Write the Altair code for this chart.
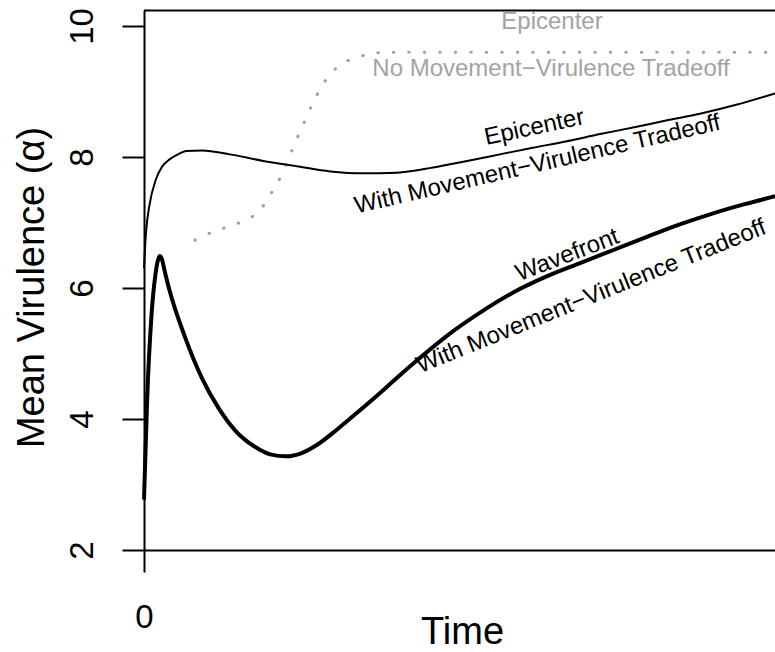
import altair as alt
import pandas as pd

# ---- data (Time in arbitrary units 0..100, mean virulence alpha) ----
wave_time = [0, 0.5, 1.2, 1.8, 2.2, 2.5, 2.8, 3.3, 4.0, 6.5, 9.2, 11.8, 14.5, 17.5,
             20.0, 22.5, 25.0, 27.5, 30.6, 33.7, 37.9, 40.1, 43.7, 48.0, 53.2, 58.5,
             63.9, 69.1, 74.4, 79.7, 84.9, 90.2, 95.2, 100]
wave_alpha = [2.77, 4.3, 5.6, 6.2, 6.42, 6.49, 6.45, 6.25, 5.98, 5.25, 4.62, 4.17, 3.82, 3.58,
              3.46, 3.43, 3.48, 3.61, 3.84, 4.09, 4.44, 4.63, 4.93, 5.27, 5.62, 5.93,
              6.18, 6.38, 6.58, 6.78, 6.97, 7.14, 7.28, 7.40]

epi_time = [0, 0.32, 0.84, 1.9, 2.85, 4.0, 5.4, 6.66, 9.2, 13.6, 18.9, 24.2, 29.5, 34.7,
            40.1, 45.8, 51.2, 56.4, 61.6, 67.0, 72.3, 77.5, 82.9, 88.1, 94.0, 100]
epi_alpha = [6.3, 6.85, 7.25, 7.66, 7.85, 7.96, 8.04, 8.09, 8.10, 8.04, 7.94, 7.86, 7.78, 7.75,
             7.76, 7.84, 7.94, 8.04, 8.14, 8.24, 8.35, 8.45, 8.56, 8.66, 8.80, 8.97]

nomove_time = [8.08, 10.46, 12.84, 15.21, 17.43, 19.18, 20.44, 21.71, 22.71, 23.77, 24.72,
               25.78, 26.83, 28.0, 29.48, 31.33, 33.71, 36.18, 38.67, 43.74, 56.4, 72.3, 88.1, 100]
nomove_alpha = [6.73, 6.84, 6.92, 7.0, 7.11, 7.29, 7.49, 7.71, 7.94, 8.17, 8.39,
                8.61, 8.84, 9.05, 9.26, 9.42, 9.52, 9.58, 9.60, 9.60, 9.60, 9.60, 9.60, 9.60]

y_ticks = [2, 4, 6, 8, 10]
x_ticks = [0]

# label anchors (data units)
lab_text = ["Epicenter", "No Movement\u2212Virulence Tradeoff", "Epicenter",
            "With Movement\u2212Virulence Tradeoff", "Wavefront",
            "With Movement\u2212Virulence Tradeoff"]
lab_time = [64.66, 64.5, 62.1, 62.6, 67.5, 71.3]
lab_alpha = [9.947, 9.244, 8.344, 7.78, 6.40, 5.77]

FONT = "Liberation Sans"
GRAY = "#a3a3a3"

xs = alt.Scale(domain=[0, 100], nice=False, zero=False)
ys = alt.Scale(domain=[2, 10.244], nice=False, zero=False)

wave_df = pd.DataFrame({"time": wave_time, "alpha": wave_alpha})
epi_df = pd.DataFrame({"time": epi_time, "alpha": epi_alpha})
nm_df = pd.DataFrame({"time": nomove_time, "alpha": nomove_alpha})

x_axis = alt.Axis(values=x_ticks, title="Time", grid=False, tickSize=22, tickWidth=2,
                  tickColor="black", domainColor="black", domainWidth=2,
                  labelFont=FONT, labelFontSize=33, labelColor="black", labelFlush=False,
                  labelPadding=55, labelBaseline="alphabetic", labelAlign="center",
                  titleFont=FONT, titleFontSize=38, titleFontWeight="normal", titleColor="black",
                  titleX=318, titleY=93, titleBaseline="alphabetic", titleAlign="center")
y_axis = alt.Axis(values=y_ticks, title="Mean Virulence (\u03b1)", grid=False, tickSize=22,
                  tickWidth=2, tickColor="black", domainColor="black", domainWidth=2,
                  labelFont=FONT, labelFontSize=33, labelColor="black", labelFlush=False,
                  labelAngle=270, labelAlign="center", labelBaseline="alphabetic",
                  labelPadding=30, labelOverlap=False,
                  titleFont=FONT, titleFontSize=38, titleFontWeight="normal", titleColor="black",
                  titleAngle=270, titleAlign="center", titleBaseline="alphabetic",
                  titleX=-101, titleY=277)

X = alt.X("time:Q", scale=xs, axis=x_axis, title="Time")
Y = alt.Y("alpha:Q", scale=ys, axis=y_axis, title="Mean Virulence (\u03b1)")

wave = alt.Chart(wave_df).mark_line(color="black", strokeWidth=4, interpolate="monotone").encode(
    x=X, y=Y, order="time:Q",
)
epi = alt.Chart(epi_df).mark_line(color="black", strokeWidth=2, interpolate="monotone").encode(
    x=X, y=Y, order="time:Q",
)
nomove = alt.Chart(nm_df).mark_line(color="#a0a0a0", strokeWidth=3, strokeCap="round",
                                     strokeDash=[0.5, 15], interpolate="monotone").encode(
    x=X, y=Y, order="time:Q",
)

top_line = alt.Chart(pd.DataFrame({"a": [0]})).mark_rule(color="black", strokeWidth=2).encode(
    x=alt.value(0), x2=alt.value(631), y=alt.value(0.5)
)

labels = []
styles = [(GRAY, 0), (GRAY, 0), ("black", 348), ("black", 347), ("black", 339), ("black", 338)]
for i, (col, ang) in enumerate(styles):
    df = pd.DataFrame({"time": [lab_time[i]], "alpha": [lab_alpha[i]], "label": [lab_text[i]]})
    labels.append(
        alt.Chart(df).mark_text(font=FONT, fontSize=24, color=col, align="center",
                                baseline="alphabetic", angle=ang).encode(
            x=X, y=Y, text="label:N",
        )
    )

chart = alt.layer(nomove, epi, wave, top_line, *labels).properties(
    width=631, height=540,
    padding={"left": 144, "top": 10, "right": 0, "bottom": 102},
    autosize=alt.AutoSizeParams(type="none"),
    background="white",
).configure_view(stroke=None)

chart.save("out.html", embed_options={"renderer": "svg", "actions": False})
